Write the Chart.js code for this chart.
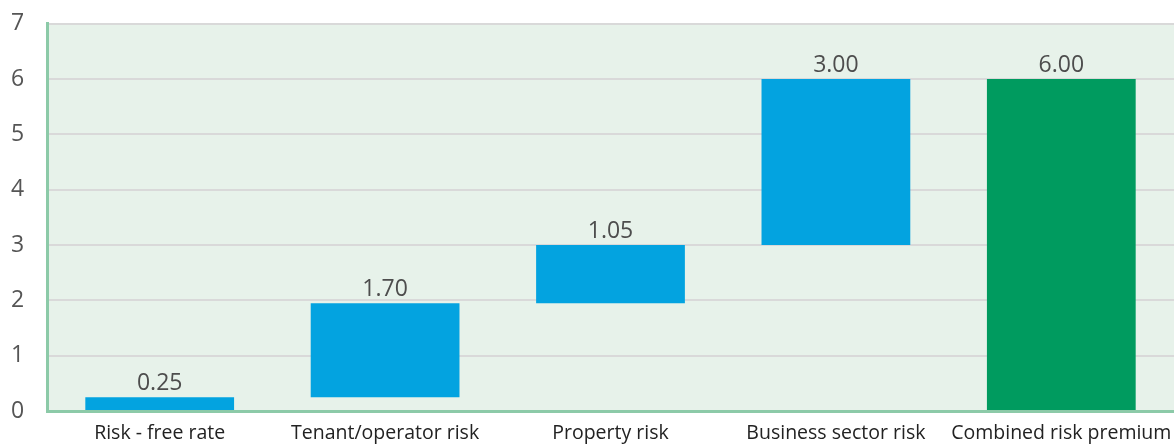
<!DOCTYPE html>
<html>
<head>
<meta charset="utf-8">
<script src="https://cdn.jsdelivr.net/npm/chart.js@4/dist/chart.umd.min.js"></script>
<style>
  html, body { margin: 0; padding: 0; background: #ffffff; }
  #wrap { width: 1174px; height: 447px; position: relative; }
</style>
</head>
<body>
<div id="wrap"><canvas id="chart"></canvas></div>
<script>
// Waterfall: risk premium build-up
const categories = ['Risk - free rate', 'Tenant/operator risk', 'Property risk', 'Business sector risk', 'Combined risk premium'];
const increments = [0.25, 1.70, 1.05, 3.00, 6.00];
const isTotal = [false, false, false, false, true];
const yTicks = [0, 1, 2, 3, 4, 5, 6, 7];

// Build floating [start, end] pairs from the increments
let running = 0;
const floating = increments.map((v, i) => {
    if (isTotal[i]) return [0, v];
    const pair = [running, running + v];
    running += v;
    return pair;
});
const barColors = isTotal.map(t => t ? '#009b5f' : '#03a3e0');

// Light green plot background
const plotBackground = {
    id: 'plotBackground',
    beforeDraw(chart) {
        const { ctx, chartArea: a } = chart;
        ctx.save();
        ctx.fillStyle = '#e7f2ea';
        ctx.fillRect(a.left, a.top, a.right - a.left, a.bottom - a.top);
        ctx.restore();
    }
};

// Value labels above each bar
const valueLabels = {
    id: 'valueLabels',
    afterDatasetsDraw(chart) {
        const { ctx } = chart;
        const meta = chart.getDatasetMeta(0);
        ctx.save();
        ctx.font = '23px "Open Sans", sans-serif';
        ctx.fillStyle = '#4d4d4d';
        ctx.textAlign = 'center';
        ctx.textBaseline = 'bottom';
        meta.data.forEach((bar, i) => {
            ctx.fillText(increments[i].toFixed(2), bar.x, bar.y - 2);
        });
        ctx.restore();
    }
};

new Chart(document.getElementById('chart'), {
    type: 'bar',
    data: {
        labels: categories,
        datasets: [{
            data: floating,
            backgroundColor: barColors,
            borderWidth: 0,
            borderSkipped: false,
            categoryPercentage: 0.66,
            barPercentage: 1.0
        }]
    },
    options: {
        responsive: true,
        maintainAspectRatio: false,
        animation: false,
        layout: { padding: { top: 12, right: 0, left: 11, bottom: 0 } },
        plugins: {
            legend: { display: false },
            tooltip: { enabled: false }
        },
        scales: {
            x: {
                afterFit(axis) {
                    axis.height = 36;
                    axis.paddingLeft = 0;
                    axis.paddingRight = 0;
                },
                grid: { display: false, drawTicks: false },
                border: { color: '#8ccaa8', width: 3 },
                ticks: {
                    color: '#222222',
                    font: { family: '"Open Sans", sans-serif', size: 19.5 },
                    padding: 11,
                    maxRotation: 0,
                    autoSkip: false
                }
            },
            y: {
                min: 0,
                max: 7,
                afterBuildTicks(axis) {
                    axis.ticks = yTicks.map(v => ({ value: v }));
                },
                afterFit(axis) { axis.width = 36; },
                grid: { color: '#d9d9d9', lineWidth: 2, drawTicks: false },
                border: { color: '#8ccaa8', width: 3 },
                ticks: {
                    color: '#555555',
                    font: { family: '"Open Sans", sans-serif', size: 23 },
                    crossAlign: 'far',
                    padding: 10
                }
            }
        }
    },
    plugins: [plotBackground, valueLabels]
});
</script>
</body>
</html>
